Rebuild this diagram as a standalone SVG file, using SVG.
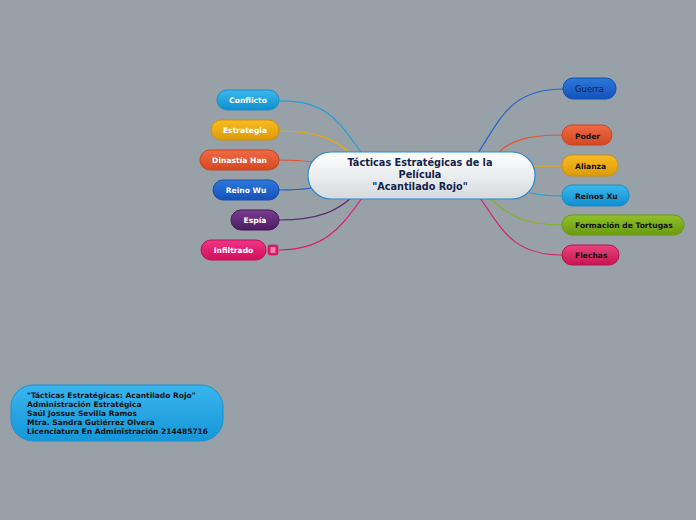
<svg xmlns="http://www.w3.org/2000/svg" width="696" height="520" viewBox="0 0 696 520">
<defs>
<linearGradient id="gC" x1="0" y1="0" x2="0" y2="1"><stop offset="0" stop-color="#ffffff"/><stop offset="1" stop-color="#d6dadd"/></linearGradient>
<linearGradient id="gLB" x1="0" y1="0" x2="0" y2="1"><stop offset="0" stop-color="#3cb8ee"/><stop offset="1" stop-color="#0f8fd0"/></linearGradient>
<linearGradient id="gAm" x1="0" y1="0" x2="0" y2="1"><stop offset="0" stop-color="#f8bc24"/><stop offset="1" stop-color="#dc9a08"/></linearGradient>
<linearGradient id="gOr" x1="0" y1="0" x2="0" y2="1"><stop offset="0" stop-color="#f06a44"/><stop offset="1" stop-color="#d44820"/></linearGradient>
<linearGradient id="gDB" x1="0" y1="0" x2="0" y2="1"><stop offset="0" stop-color="#2c78dc"/><stop offset="1" stop-color="#1452b8"/></linearGradient>
<linearGradient id="gPu" x1="0" y1="0" x2="0" y2="1"><stop offset="0" stop-color="#7a3c90"/><stop offset="1" stop-color="#4c1c62"/></linearGradient>
<linearGradient id="gPk" x1="0" y1="0" x2="0" y2="1"><stop offset="0" stop-color="#f03486"/><stop offset="1" stop-color="#d0105c"/></linearGradient>
<linearGradient id="gPk2" x1="0" y1="0" x2="0" y2="1"><stop offset="0" stop-color="#e8447a"/><stop offset="1" stop-color="#c81652"/></linearGradient>
<linearGradient id="gGr" x1="0" y1="0" x2="0" y2="1"><stop offset="0" stop-color="#90c028"/><stop offset="1" stop-color="#6a9a10"/></linearGradient>
<linearGradient id="gBox" x1="0" y1="0" x2="0" y2="1"><stop offset="0" stop-color="#3ab6ee"/><stop offset="1" stop-color="#1496d8"/></linearGradient>
</defs>
<style>
.w{font-family:Verdana,"DejaVu Sans",sans-serif;font-size:7.6px;font-weight:bold;fill:#ffffff;text-anchor:middle}
.k{font-family:Verdana,"DejaVu Sans",sans-serif;font-size:7.6px;font-weight:bold;fill:#111111}
.c{font-family:Verdana,"DejaVu Sans",sans-serif;font-size:9.7px;font-weight:bold;fill:#14244a;text-anchor:middle}
.b{font-family:Verdana,"DejaVu Sans",sans-serif;font-size:7.5px;font-weight:bold;fill:#111111}
.ln{fill:none;stroke-width:1.2}
</style>
<rect width="696" height="520" fill="#98a0a8"/>
<g id="connectors">
<path class="ln" stroke="#1ea0dc" d="M279,101 C330,100 340,125 362,153"/>
<path class="ln" stroke="#e8a80c" d="M279,131 C320,131 335,140 350,153"/>
<path class="ln" stroke="#e0552e" d="M279,160 C295,160 305,161 312,162"/>
<path class="ln" stroke="#1d64c8" d="M279,190 C295,190 305,189 312,188"/>
<path class="ln" stroke="#5a2a72" d="M279,220 C320,220 338,210 352,197"/>
<path class="ln" stroke="#e0186c" d="M279,250 C330,250 345,220 363,197"/>
<path class="ln" stroke="#1e64cc" d="M563,89 C510,89 500,120 478,153"/>
<path class="ln" stroke="#e0552e" d="M562,135 C530,135 510,140 498,153"/>
<path class="ln" stroke="#e8a80c" d="M562,166 L534,166"/>
<path class="ln" stroke="#1ea0dc" d="M562,196 C550,196 540,195 530,193"/>
<path class="ln" stroke="#84b420" d="M562,225 C520,225 505,212 490,198"/>
<path class="ln" stroke="#d81e63" d="M562,255 C510,255 500,225 480,198"/>
</g>
<g id="central">
<rect x="308" y="152" width="227" height="47" rx="23" fill="url(#gC)" stroke="#2a8ad0" stroke-width="1.2"/>
<text class="c" x="420" y="166">Tácticas Estratégicas de la</text>
<text class="c" x="420" y="178">Película</text>
<text class="c" x="420" y="190">"Acantilado Rojo"</text>
</g>
<g id="n-conflicto"><rect x="217" y="90" width="62" height="20" rx="10" fill="url(#gLB)" stroke="#1a8cc8"/><text class="w" x="248" y="103">Conflicto</text></g>
<g id="n-estrategia"><rect x="211" y="120" width="68" height="20" rx="10" fill="url(#gAm)" stroke="#d09008"/><text class="w" x="245" y="133">Estrategia</text></g>
<g id="n-dinastia"><rect x="200" y="150" width="79" height="20" rx="10" fill="url(#gOr)" stroke="#c84420"/><text class="w" x="239.5" y="163">Dinastía Han</text></g>
<g id="n-reinowu"><rect x="213" y="180" width="66" height="20" rx="10" fill="url(#gDB)" stroke="#1450b0"/><text class="w" x="246" y="193">Reino Wu</text></g>
<g id="n-espia"><rect x="231" y="210" width="48" height="20" rx="10" fill="url(#gPu)" stroke="#441858"/><text class="w" x="255" y="223">Espía</text></g>
<g id="n-infiltrado"><rect x="201" y="240" width="65" height="20" rx="10" fill="url(#gPk)" stroke="#c0105a"/><text class="w" x="233.5" y="253">Infiltrado</text>
<rect x="268" y="245" width="10" height="10" rx="2" fill="#e0186c" stroke="#b81058" stroke-width="0.6"/>
<path d="M270.5,248 h5 M270.5,250 h5 M270.5,252 h5" stroke="#ffffff" stroke-width="0.9"/></g>
<g id="n-guerra"><rect x="563" y="78" width="53" height="21" rx="10" fill="url(#gDB)" stroke="#1450b0"/><text x="589.5" y="92" style="font-family:Verdana,'DejaVu Sans',sans-serif;font-size:8.4px;fill:#10204a;text-anchor:middle">Guerra</text></g>
<g id="n-poder"><rect x="562" y="125" width="50" height="20" rx="10" fill="url(#gOr)" stroke="#c84420"/><text class="k" x="575" y="138.5">Poder</text></g>
<g id="n-alianza"><rect x="562" y="155" width="56" height="21" rx="10" fill="url(#gAm)" stroke="#d09008"/><text class="k" x="575" y="169">Alianza</text></g>
<g id="n-reinosxu"><rect x="562" y="185" width="67" height="21" rx="10" fill="url(#gLB)" stroke="#1a8cc8"/><text class="k" x="575" y="199">Reinos Xu</text></g>
<g id="n-formacion"><rect x="562" y="215" width="122" height="20" rx="10" fill="url(#gGr)" stroke="#6a9a10"/><text class="k" x="575" y="228">Formación de Tortugas</text></g>
<g id="n-flechas"><rect x="562" y="245" width="57" height="20" rx="10" fill="url(#gPk2)" stroke="#b81450"/><text class="k" x="575" y="258">Flechas</text></g>
<g id="info-box">
<rect x="11" y="385" width="212" height="56" rx="22" fill="url(#gBox)" stroke="#1a90d0"/>
<text class="b" x="27" y="398">"Tácticas Estratégicas: Acantilado Rojo"</text>
<text class="b" x="27" y="407">Administración Estratégica</text>
<text class="b" x="27" y="416">Saúl Jossue Sevilla Ramos</text>
<text class="b" x="27" y="425">Mtra. Sandra Gutiérrez Olvera</text>
<text class="b" x="27" y="434">Licenciatura En Administración 214485716</text>
</g>
</svg>
